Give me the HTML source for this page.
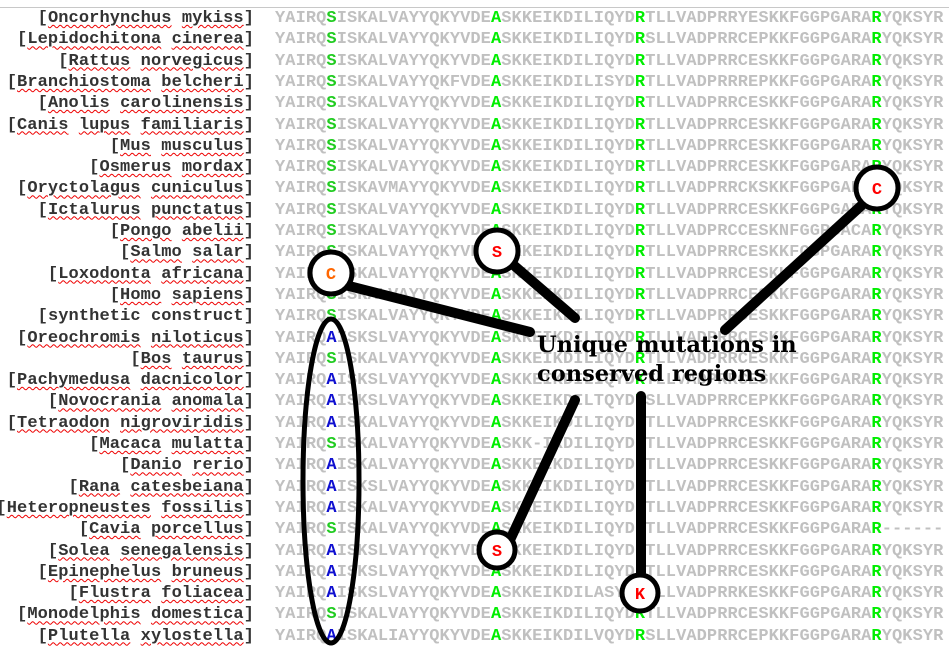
<!DOCTYPE html>
<html><head><meta charset="utf-8"><style>
body{margin:0;width:949px;height:646px;background:#fff;position:relative;overflow:hidden;font-family:"Liberation Mono",monospace;}
.top{position:absolute;left:0;top:7px;width:949px;height:1px;background:#c8c8c8}
.r{position:absolute;left:0;width:949px;height:21px;font-size:17px;font-weight:bold;line-height:21px;white-space:pre}
.l{position:absolute;right:695px;color:#333;letter-spacing:0.1px}
.l u{text-decoration:underline wavy #e00;text-decoration-thickness:1px;text-underline-offset:2px}
.s{position:absolute;left:275px;color:#c0c0c0;letter-spacing:0.08px}
.g{color:#22cc22}.G{color:#00ee00}.b{color:#1010d0}.x{color:#ff0000}.o{color:#ff6600}
svg{position:absolute;left:0;top:0}
</style></head><body>
<div class="top"></div>
<div class="r" style="top:8px"><span class="l">[<u>Oncorhynchus</u> <u>mykiss</u>]</span><span class="s">YAIRQ<span class="g">S</span>ISKALVAYYQKYVDE<span class="G">A</span>SKKEIKDILIQYD<span class="G">R</span>TLLVADPRRYESKKFGGPGARA<span class="G">R</span>YQKSYR</span></div>
<div class="r" style="top:29.3px"><span class="l">[<u>Lepidochitona</u> <u>cinerea</u>]</span><span class="s">YAIRQ<span class="g">S</span>ISKALVAYYQKYVDE<span class="G">A</span>SKKEIKDILIQYD<span class="G">R</span>SLLVADPRRCEPKKFGGPGARA<span class="G">R</span>YQKSYR</span></div>
<div class="r" style="top:50.6px"><span class="l">[<u>Rattus</u> <u>norvegicus</u>]</span><span class="s">YAIRQ<span class="g">S</span>ISKALVAYYQKYVDE<span class="G">A</span>SKKEIKDILIQYD<span class="G">R</span>TLLVADPRRCESKKFGGPGARA<span class="G">R</span>YQKSYR</span></div>
<div class="r" style="top:71.9px"><span class="l">[<u>Branchiostoma</u> <u>belcheri</u>]</span><span class="s">YAIRQ<span class="g">S</span>ISKALVAYYQKFVDE<span class="G">A</span>SKKEIKDILISYD<span class="G">R</span>TLLVADPRRREPKKFGGPGARA<span class="G">R</span>YQKSYR</span></div>
<div class="r" style="top:93.2px"><span class="l">[<u>Anolis</u> <u>carolinensis</u>]</span><span class="s">YAIRQ<span class="g">S</span>ISKALVAYYQKYVDE<span class="G">A</span>SKKEIKDILIQYD<span class="G">R</span>TLLVADPRRCESKKFGGPGARA<span class="G">R</span>YQKSYR</span></div>
<div class="r" style="top:114.5px"><span class="l">[<u>Canis</u> <u>lupus</u> <u>familiaris</u>]</span><span class="s">YAIRQ<span class="g">S</span>ISKALVAYYQKYVDE<span class="G">A</span>SKKEIKDILIQYD<span class="G">R</span>TLLVADPRRCESKKFGGPGARA<span class="G">R</span>YQKSYR</span></div>
<div class="r" style="top:135.8px"><span class="l">[<u>Mus</u> <u>musculus</u>]</span><span class="s">YAIRQ<span class="g">S</span>ISKALVAYYQKYVDE<span class="G">A</span>SKKEIKDILIQYD<span class="G">R</span>TLLVADPRRCESKKFGGPGARA<span class="G">R</span>YQKSYR</span></div>
<div class="r" style="top:157.1px"><span class="l">[<u>Osmerus</u> <u>mordax</u>]</span><span class="s">YAIRQ<span class="g">S</span>ISKALVAYYQKYVDE<span class="G">A</span>SKKEIKDILIQYD<span class="G">R</span>TLLVADPRRCESKKFGGPGARA<span class="G">R</span>YQKSYR</span></div>
<div class="r" style="top:178.4px"><span class="l">[<u>Oryctolagus</u> <u>cuniculus</u>]</span><span class="s">YAIRQ<span class="g">S</span>ISKAVMAYYQKYVDE<span class="G">A</span>SKKEIKDILIQYD<span class="G">R</span>TLLVADPRRCKSKKFGGPGARA<span class="x">C</span>YQKSYR</span></div>
<div class="r" style="top:199.7px"><span class="l">[<u>Ictalurus</u> <u>punctatus</u>]</span><span class="s">YAIRQ<span class="g">S</span>ISKALVAYYQKYVDE<span class="G">A</span>SKKEIKDILIQYD<span class="G">R</span>TLLVADPRRCESKKFGGPGARA<span class="G">R</span>YQKSYR</span></div>
<div class="r" style="top:221px"><span class="l">[<u>Pongo</u> <u>abelii</u>]</span><span class="s">YAIRQ<span class="g">S</span>ISKALVAYYQKYVDE<span class="G">A</span>SKKEIKDILIQYD<span class="G">R</span>TLLVADPRCCESKNFGGPGACA<span class="G">R</span>YQKSYR</span></div>
<div class="r" style="top:242.3px"><span class="l">[<u>Salmo</u> <u>salar</u>]</span><span class="s">YAIRQ<span class="g">S</span>ISKALVAYYQKYVDE<span class="x">S</span>SKKEIKDILIQYD<span class="G">R</span>TLLVADPRRCESKKFGGPGARA<span class="G">R</span>YQKSYR</span></div>
<div class="r" style="top:263.6px"><span class="l">[<u>Loxodonta</u> <u>africana</u>]</span><span class="s">YAIRQ<span class="o">C</span>ISKALVAYYQKYVDE<span class="G">A</span>SKKEIKDILIQYD<span class="G">R</span>TLLVADPRRCESKKFGGPGARA<span class="G">R</span>YQKSYR</span></div>
<div class="r" style="top:284.9px"><span class="l">[<u>Homo</u> <u>sapiens</u>]</span><span class="s">YAIRQ<span class="g">S</span>ISKALVAYYQKYVDE<span class="G">A</span>SKKEIKDILIQYD<span class="G">R</span>TLLVADPRRCESKKFGGPGARA<span class="G">R</span>YQKSYR</span></div>
<div class="r" style="top:306.2px"><span class="l">[synthetic construct]</span><span class="s">YAIRQ<span class="g">S</span>ISKALVAYYQKYVDE<span class="G">A</span>SKKEIKDILIQYD<span class="G">R</span>TLLVADPRRCESKKFGGPGARA<span class="G">R</span>YQKSYR</span></div>
<div class="r" style="top:327.5px"><span class="l">[<u>Oreochromis</u> <u>niloticus</u>]</span><span class="s">YAIRQ<span class="b">A</span>ISKSLVAYYQKYVDE<span class="G">A</span>SKKEIKDILIQYD<span class="G">R</span>TLLVADPRRCESKKFGGPGARA<span class="G">R</span>YQKSYR</span></div>
<div class="r" style="top:348.8px"><span class="l">[<u>Bos</u> <u>taurus</u>]</span><span class="s">YAIRQ<span class="g">S</span>ISKALVAYYQKYVDE<span class="G">A</span>SKKEIKDILIQYD<span class="G">R</span>TLLVADPRRCESKKFGGPGARA<span class="G">R</span>YQKSYR</span></div>
<div class="r" style="top:370.1px"><span class="l">[<u>Pachymedusa</u> <u>dacnicolor</u>]</span><span class="s">YAIRQ<span class="b">A</span>ISKSLVAYYQKYVDE<span class="G">A</span>SKKEIKDILIQYD<span class="G">K</span>TLLVADPRRCESKKFGGPGARA<span class="G">R</span>YQKSYR</span></div>
<div class="r" style="top:391.4px"><span class="l">[<u>Novocrania</u> <u>anomala</u>]</span><span class="s">YAIRQ<span class="b">A</span>ISKSLVAYYQKYVDE<span class="G">A</span>SKKEIKDILTQYD<span class="G">R</span>SLLVADPRRCEPKKFGGPGARA<span class="G">R</span>YQKSYR</span></div>
<div class="r" style="top:412.7px"><span class="l">[<u>Tetraodon</u> <u>nigroviridis</u>]</span><span class="s">YAIRQ<span class="b">A</span>ISKALVAYYQKYVDE<span class="G">A</span>SKKEIKDILIQYD<span class="G">R</span>TLLVADPRRCESKKFGGPGARA<span class="G">R</span>YQKSYR</span></div>
<div class="r" style="top:434px"><span class="l">[<u>Macaca</u> <u>mulatta</u>]</span><span class="s">YAIRQ<span class="g">S</span>ISKALVAYYQKYVDE<span class="G">A</span>SKK-IKDILIQYD<span class="G">R</span>TLLVADPRRCESKKFGGPGARA<span class="G">R</span>YQKSYR</span></div>
<div class="r" style="top:455.3px"><span class="l">[<u>Danio</u> <u>rerio</u>]</span><span class="s">YAIRQ<span class="b">A</span>ISKALVAYYQKYVDE<span class="G">A</span>SKKEIKDILIQYD<span class="G">R</span>TLLVADPRRCESKKFGGPGARA<span class="G">R</span>YQKSYR</span></div>
<div class="r" style="top:476.6px"><span class="l">[<u>Rana</u> <u>catesbeiana</u>]</span><span class="s">YAIRQ<span class="b">A</span>ISKSLVAYYQKYVDE<span class="G">A</span>SKKEIKDILIQYD<span class="G">R</span>TLLVADPRRCESKKFGGPGARA<span class="G">R</span>YQKSYR</span></div>
<div class="r" style="top:497.9px"><span class="l">[<u>Heteropneustes</u> <u>fossilis</u>]</span><span class="s">YAIRQ<span class="b">A</span>ISKALVAYYQKYVDE<span class="G">A</span>SKKEIKDILIQYD<span class="G">R</span>TLLVADPRRCESKKFGGPGARA<span class="G">R</span>YQKSYR</span></div>
<div class="r" style="top:519.2px"><span class="l">[<u>Cavia</u> <u>porcellus</u>]</span><span class="s">YAIRQ<span class="g">S</span>ISKALVAYYQKYVDE<span class="G">A</span>SKKEIKDILIQYD<span class="G">R</span>TLLVADPRRCESKKFGGPGARA<span class="G">R</span>------</span></div>
<div class="r" style="top:540.5px"><span class="l">[<u>Solea</u> <u>senegalensis</u>]</span><span class="s">YAIRQ<span class="b">A</span>ISKSLVAYYQKYVDE<span class="x">S</span>SKKEIKDILIQYD<span class="G">R</span>TLLVADPRRCESKKFGGPGARA<span class="G">R</span>YQKSYR</span></div>
<div class="r" style="top:561.8px"><span class="l">[<u>Epinephelus</u> <u>bruneus</u>]</span><span class="s">YAIRQ<span class="b">A</span>ISKSLVAYYQKYVDE<span class="G">A</span>SKKEIKDILIQYD<span class="G">R</span>TLLVADPRRCESKKFGGPGARA<span class="G">R</span>YQKSYR</span></div>
<div class="r" style="top:583.1px"><span class="l">[<u>Flustra</u> <u>foliacea</u>]</span><span class="s">YAIRQ<span class="b">A</span>ISKSLVAYYQKYVDE<span class="G">A</span>SKKEIKDILASYD<span class="x">K</span>TLLVADPRRKESKKFGGPGARA<span class="G">R</span>YQKSYR</span></div>
<div class="r" style="top:604.4px"><span class="l">[<u>Monodelphis</u> <u>domestica</u>]</span><span class="s">YAIRQ<span class="g">S</span>ISKALVAYYQKYVDE<span class="G">A</span>SKKEIKDILIQYD<span class="G">R</span>TLLVADPRRCESKKFGGPGARA<span class="G">R</span>YQKSYR</span></div>
<div class="r" style="top:625.7px"><span class="l">[<u>Plutella</u> <u>xylostella</u>]</span><span class="s">YAIRQ<span class="b">A</span>ISKALIAYYQKYVDE<span class="G">A</span>SKKEIKDILVQYD<span class="G">R</span>SLLVADPRRCEPKKFGGPGARA<span class="G">R</span>YQKSYR</span></div>

<svg width="949" height="646" viewBox="0 0 949 646">
<g stroke="#000" stroke-linecap="round" fill="none">
<line x1="345" y1="285" x2="530" y2="332" stroke-width="10"/>
<line x1="510" y1="262" x2="575" y2="318" stroke-width="10"/>
<line x1="862" y1="205" x2="725" y2="330" stroke-width="10"/>
<line x1="575" y1="400" x2="510" y2="540" stroke-width="10"/>
<line x1="641" y1="396" x2="641" y2="573" stroke-width="10"/>
<ellipse cx="331" cy="481" rx="28" ry="162" stroke-width="5"/>
</g>
<g stroke="#000" stroke-width="5" fill="#fff">
<circle cx="331" cy="273" r="21"/>
<circle cx="497" cy="251" r="21"/>
<circle cx="877" cy="188" r="21"/>
<circle cx="497" cy="550" r="18"/>
<circle cx="640" cy="593" r="18"/>
</g>
<g font-family="'Liberation Mono',monospace" font-weight="bold" font-size="17" text-anchor="middle">
<text x="331" y="279" fill="#ff6600">C</text>
<text x="497" y="257" fill="#ff0000">S</text>
<text x="877" y="194" fill="#ff0000">C</text>
<text x="497" y="556" fill="#ff0000">S</text>
<text x="640" y="599" fill="#ff0000">K</text>
</g>
<g font-family="'DejaVu Serif',serif" font-weight="bold" font-size="22.5" fill="#000">
<text x="537" y="352">Unique mutations in</text>
<text x="537" y="381">conserved regions</text>
</g>
</svg>
</body></html>
